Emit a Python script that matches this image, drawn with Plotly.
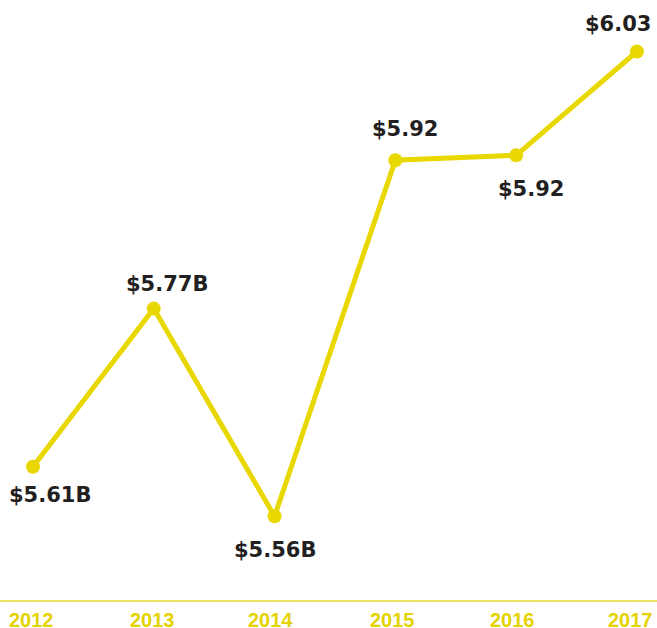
import plotly.graph_objects as go

years = [2012, 2013, 2014, 2015, 2016, 2017]
values = [5.61, 5.77, 5.56, 5.92, 5.925, 6.03]
labels = ["$5.61B", "$5.77B", "$5.56B", "$5.92", "$5.92", "$6.03"]
tick_labels = ["2012", "2013", "2014", "2015", "2016", "2017"]

# label offsets (style only)
xshifts = [17, 13, 0, 10, 15, -19]
yshifts = [-28, 25, -34, 31, -34, 28]
tick_xshifts = [-1, -1, -4, -3, -4, -6]

YELLOW = "#E8D800"
FONT = "DejaVu Sans"

fig = go.Figure()
fig.add_trace(go.Scatter(
    x=years, y=values, mode="lines+markers",
    line=dict(color=YELLOW, width=5),
    marker=dict(color=YELLOW, size=14),
    hoverinfo="skip",
))

for x, v, t, xs, ys in zip(years, values, labels, xshifts, yshifts):
    fig.add_annotation(x=x, y=v, text=t, showarrow=False,
                       xshift=xs, yshift=ys,
                       font=dict(family=FONT, size=21, color="#231F20", weight=700))

for x, t, xs in zip(years, tick_labels, tick_xshifts):
    fig.add_annotation(x=x, y=0, xref="x", yref="paper", text=t, showarrow=False,
                       yanchor="middle", xshift=xs, yshift=-20,
                       font=dict(family="Liberation Sans", size=20, color="#E5D300", weight=700))

fig.update_layout(
    width=657, height=628,
    margin=dict(l=0, r=0, t=0, b=28),
    paper_bgcolor="white", plot_bgcolor="white",
    showlegend=False,
    xaxis=dict(
        range=[2011.727, 2017.166], automargin=False,
        showticklabels=False,
        showgrid=False, zeroline=False,
        showline=True, linecolor="#F0E260", linewidth=2,
        ticks="",
    ),
    yaxis=dict(
        range=[5.4753, 6.0821], automargin=False,
        visible=False, showgrid=False, zeroline=False,
    ),
)

fig.write_html("out.html", config={"displayModeBar": False},
               post_script="document.body.style.margin='0px';")
